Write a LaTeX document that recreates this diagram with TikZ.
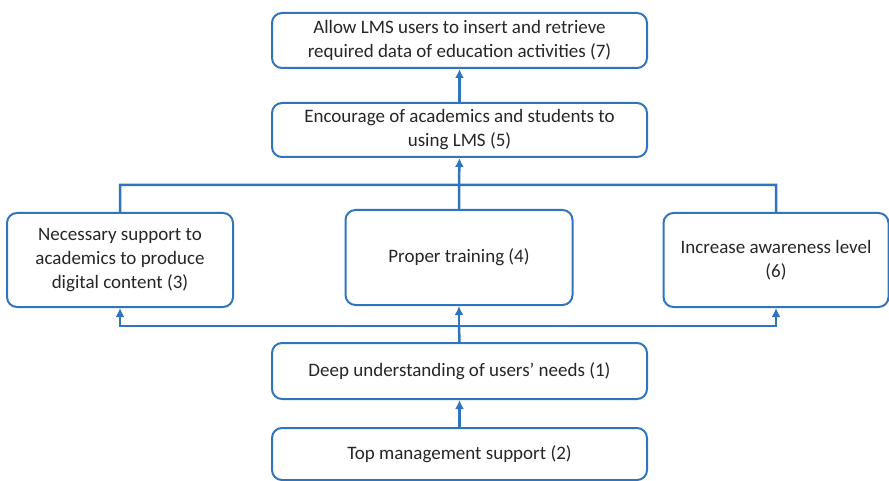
\documentclass[tikz,border=0pt]{standalone}
\usepackage{fontspec}
\setmainfont{Carlito}
\usepackage{tikz}
\usetikzlibrary{positioning, arrows.meta}
\definecolor{lmsblue}{RGB}{47,117,189}

\begin{document}
\begin{tikzpicture}[x=1pt, y=-1pt, font=\fontsize{19}{24}\selectfont]

        % Setup the style for the boxes
        \tikzset{box style/.style={draw=lmsblue,
                                   line width=2pt,
                                   rounded corners=10pt,
                                   align=center,
                                   inner sep=0pt,
                                   text=black!85}}

        \useasboundingbox (0, 0) rectangle (889, 481);

        % Draw the boxes
        \node[box style, minimum width=375pt, minimum height=55pt] at (459.5, 40.5) (B7)
            {Allow LMS users to insert and retrieve\\required data of education activities (7)};
        \node[box style, minimum width=375pt, minimum height=54pt] at (459.5, 130) (B5)
            {Encourage of academics and students to\\using LMS (5)};
        \node[box style, minimum width=226pt, minimum height=94pt] at (120, 260) (B3)
            {Necessary support to\\academics to produce\\digital content (3)};
        \node[box style, minimum width=227pt, minimum height=95pt] at (459, 257.5) (B4)
            {Proper training (4)};
        \node[box style, minimum width=225pt, minimum height=94pt] at (776, 260) (B6)
            {Increase awareness level\\(6)};
        \node[box style, minimum width=375pt, minimum height=56pt] at (459.5, 371) (B1)
            {Deep understanding of users' needs (1)};
        \node[box style, minimum width=375pt, minimum height=52pt] at (459.5, 454) (B2)
            {Top management support (2)};

        % Bus points
        \coordinate (top bus) at (459, 185);
        \coordinate (bottom bus) at (459, 326);

        % Connect the boxes with arrows
        \draw[line width=2.5pt,
              >={Latex[length=9pt, width=9pt]},
              color=lmsblue]
            (B5.north) edge[->] (B7.south)
            (top bus)  edge[->] (B5.south)
            (B3.north) |- (top bus) -| (B6.north)
            (B4.north) -- (top bus)
            (B1.north) -- (bottom bus)
            (bottom bus) edge[->] (B4.south)
            (bottom bus) edge[->, to path={-| (\tikztotarget)}] (B3.south)
            (bottom bus) edge[->, to path={-| (\tikztotarget)}] (B6.south)
            (B2.north) edge[->] (B1.south);
    \end{tikzpicture}
\end{document}
